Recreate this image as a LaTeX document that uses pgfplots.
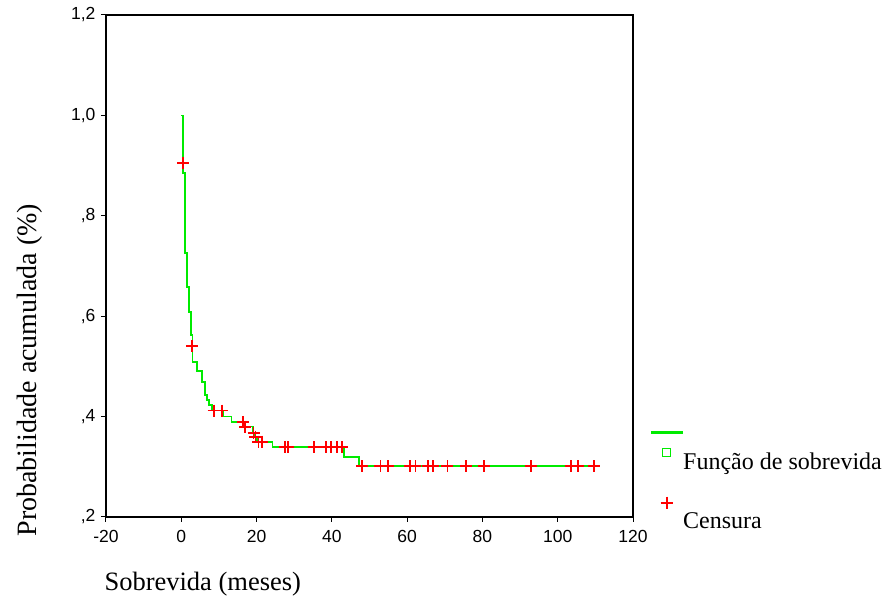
\documentclass[border=0pt]{standalone}
\usepackage{fontspec}
\setmainfont{Liberation Serif}
\newfontfamily\arial{Liberation Sans}
\usepackage{pgfplots}
\pgfplotsset{compat=1.18}
\usetikzlibrary{calc}
\definecolor{kmgreen}{RGB}{0,235,0}
\definecolor{kmred}{RGB}{255,0,0}
\begin{document}
\begin{tikzpicture}
\begin{axis}[name=ax,
  width=527pt, height=502pt, scale only axis,
  xmin=-20, xmax=120, ymin=0.2, ymax=1.2,
  xtick={-20,0,20,40,60,80,100,120},
  xticklabels={{-20},{0},{20},{40},{60},{80},{100},{120}},
  ytick={0.2,0.4,0.6,0.8,1.0,1.2},
  yticklabels={{,2},{,4},{,6},{,8},{1,0},{1,2}},
  xtick pos=lower, ytick pos=left,
  tick align=outside, major tick length=5pt,
  tick style={black, line width=1pt},
  axis line style={black, line width=1.3pt},
  ticklabel style={font=\arial\fontsize{17.5}{20}\selectfont},
  xticklabel style={yshift=-5pt},
  yticklabel style={xshift=-2pt},
  xlabel={Sobrevida (meses)},
  xlabel style={at={(axis description cs:0,0)}, anchor=north west, xshift=-5pt, yshift=-52pt, font=\fontsize{26.5}{30}\selectfont},
  ylabel={Probabilidade acumulada (\%)},
  ylabel style={at={(axis description cs:0,0)}, anchor=south west, xshift=-23pt, yshift=60pt, font=\fontsize{28}{32}\selectfont},
  legend style={at={(axis description cs:1,0.1713)}, anchor=north west, xshift=18pt, draw=none, fill=none, inner sep=0pt, outer sep=0pt, nodes={inner sep=0pt, outer sep=0pt}, font=\fontsize{24}{28}\selectfont},
]
\addlegendimage{legend image code/.code={
  \fill[kmgreen] (0pt,-0.8pt) rectangle (31pt,0.8pt);
  \draw[kmgreen, line width=1.3pt] (11.5pt,-24.5pt) rectangle (19.5pt,-16.5pt);
  \node[anchor=base west, inner sep=0pt, font=\fontsize{24}{28}\selectfont] at (32pt,-37pt) {Função de sobrevida};
  \draw[kmred, line width=1.6pt] (9.5pt,-70.7pt) -- (21.5pt,-70.7pt) (15.5pt,-64.7pt) -- (15.5pt,-76.7pt);
  \node[anchor=base west, inner sep=0pt, font=\fontsize{24}{28}\selectfont] at (32pt,-96pt) {Censura};
}}
\addlegendentry{}
\addplot[const plot, kmgreen, line width=1.7pt, no marks, forget plot] coordinates {
(0,1.0) (0.53,0.885) (1.06,0.726) (1.5,0.658) (2.0,0.609) (2.6,0.5625)
(2.95,0.509) (4.17,0.491) (5.5,0.4695) (6.37,0.443) (6.83,0.433) (7.44,0.423)
(8.15,0.412) (11.2,0.400) (13.3,0.389) (16.8,0.380) (19.0,0.368) (19.5,0.360)
(20.2,0.350) (24.2,0.339) (43.2,0.320) (47.3,0.301) (110.0,0.301)
};
\addplot[only marks, mark=+, kmred, mark size=6pt, line width=1.8pt, forget plot] coordinates {
(0.53,0.905) (2.95,0.54)
(8.6,0.412) (10.8,0.412)
(16.5,0.389) (17.0,0.380) (19.2,0.368) (19.7,0.360) (20.5,0.350) (21.4,0.350)
(27.6,0.339) (28.4,0.339) (35.3,0.339) (38.4,0.339) (39.8,0.339) (41.4,0.339) (42.8,0.339)
(48.1,0.301) (52.9,0.301) (55.0,0.301) (60.8,0.301) (62.2,0.301) (65.6,0.301) (66.9,0.301)
(70.7,0.301) (75.7,0.301) (80.5,0.301) (93.0,0.301) (103.6,0.301) (105.4,0.301) (109.7,0.301)
};
\end{axis}
\pgfresetboundingbox
\path ($(ax.south west)+(-106pt,-87pt)$) rectangle ($(ax.north east)+(253pt,15pt)$);
\end{tikzpicture}
\end{document}
